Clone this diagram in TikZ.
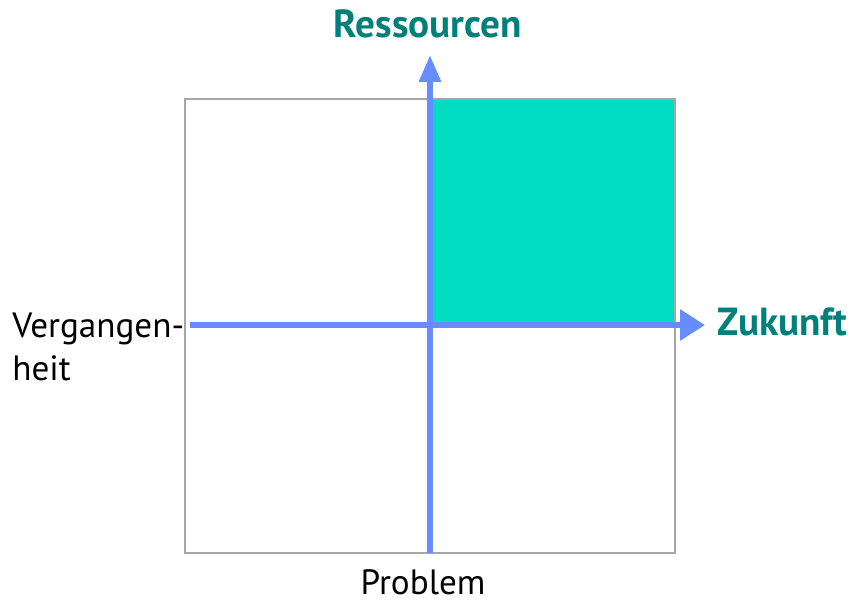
\documentclass[tikz,border=0pt]{standalone}
\usepackage{fontspec}
\setmainfont{PT Sans}
\usepackage{xcolor}
\usetikzlibrary{arrows.meta,positioning}

\definecolor{axisblue}{RGB}{102,140,255}
\definecolor{quadteal}{RGB}{0,221,194}
\definecolor{labelteal}{RGB}{0,128,122}

\begin{document}
\begin{tikzpicture}[
    x=0.02cm, y=0.02cm,
    frame/.style={draw=gray!70, line width=1.5pt},
    axis/.style={draw=axisblue, line width=0.12cm},
    lbl/.style={inner sep=0pt, font=\fontsize{20}{24.4}\selectfont, align=left},
    hilbl/.style={inner sep=0pt, font=\fontsize{22.3}{26}\selectfont\bfseries, text=labelteal}
]
\useasboundingbox (0,0) rectangle (850,603);

% quadrant frame
\coordinate (sw) at (185,50);
\coordinate (ne) at (675,504);
\coordinate (origin) at (430,278);
\fill[quadteal] (origin) rectangle (ne);
\draw[frame] (sw) rectangle (ne);

% axes
\coordinate (bottom) at (430,50);
\coordinate (top) at (430,548);
\coordinate (left) at (190,278);
\coordinate (right) at (705,278);
\draw[axis, -{Triangle[length=0.54cm, width=0.42cm]}] (bottom) -- (top);
\draw[axis, -{Triangle[length=0.5cm, width=0.6cm]}] (left) -- (right);

% labels
\node[hilbl, anchor=base] (ressourcen) at (428,565) {Ressourcen};
\node[hilbl, anchor=base west] (zukunft) at (717,268) {Zukunft};
\node[lbl, anchor=base west] (vergangenheit) at (12,223) {Vergangen-\\heit};
\node[lbl, anchor=base] (problem) at (423,9) {Problem};
\end{tikzpicture}
\end{document}
